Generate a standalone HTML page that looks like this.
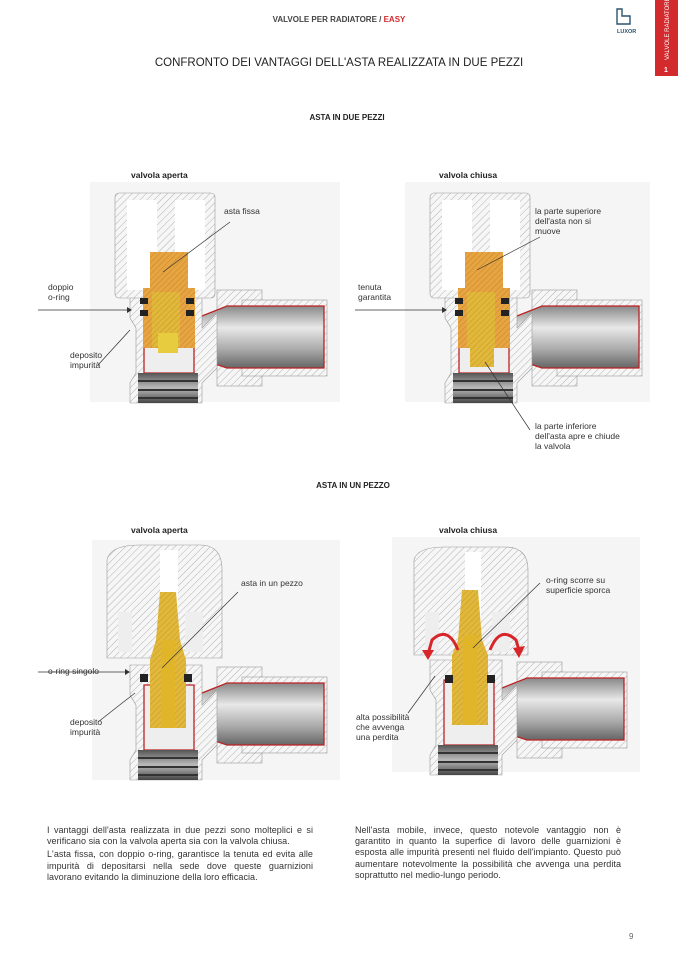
<!DOCTYPE html>
<html><head><meta charset="utf-8"><style>
html,body{margin:0;padding:0;background:#fff}
body{width:678px;height:959px;position:relative;overflow:hidden;font-family:"Liberation Sans",sans-serif;color:#222}
.a{position:absolute;white-space:nowrap}
.lab{font-size:8.5px;line-height:10px;color:#333}
.p{position:absolute;font-size:9px;line-height:11.2px;text-align:justify;color:#333;letter-spacing:0.05px}
.p div{margin-bottom:2px}
</style></head><body>
<svg width="678" height="959" style="position:absolute;left:0;top:0">
<defs>
<pattern id="h" width="5" height="5" patternUnits="userSpaceOnUse" patternTransform="rotate(45)"><rect width="5" height="5" fill="#f6f6f6"/><line x1="0" y1="0" x2="0" y2="5" stroke="#aaa" stroke-width="0.9"/></pattern>
<pattern id="hy" width="4" height="4" patternUnits="userSpaceOnUse" patternTransform="rotate(45)"><rect width="4" height="4" fill="#e2b83a"/><line x1="0" y1="0" x2="0" y2="4" stroke="#b8902a" stroke-width="0.8"/></pattern>
<pattern id="ho" width="4" height="4" patternUnits="userSpaceOnUse" patternTransform="rotate(45)"><rect width="4" height="4" fill="#e6a542"/><line x1="0" y1="0" x2="0" y2="4" stroke="#c07a20" stroke-width="0.8"/></pattern>
<linearGradient id="m" x1="0" y1="0" x2="0" y2="1"><stop offset="0" stop-color="#888"/><stop offset="0.35" stop-color="#e8e8e8"/><stop offset="0.7" stop-color="#aaa"/><stop offset="1" stop-color="#666"/></linearGradient>
<linearGradient id="th" x1="0" y1="0" x2="0" y2="1"><stop offset="0" stop-color="#555"/><stop offset="0.5" stop-color="#bbb"/><stop offset="1" stop-color="#444"/></linearGradient>
<g id="valve">
  <rect x="125" y="112" width="45" height="96" fill="url(#h)" stroke="#999" stroke-width="0.6"/>
  <rect x="150" y="122" width="85" height="76" fill="url(#h)" stroke="#999" stroke-width="0.6"/>
  <path d="M105 140 L135 128 L232 128 L232 190 L135 190 L105 180 Z" fill="url(#m)" stroke="#b22" stroke-width="1.3"/>
  <path d="M38 110 L110 110 L110 150 L125 135 L125 190 L110 205 L110 225 L38 225 L38 205 L44 195 L44 150 L38 140 Z" fill="url(#h)" stroke="#999" stroke-width="0.6"/>
  <path d="M52 130 L102 130 L102 195 L52 195 Z" fill="#eee" stroke="#b22" stroke-width="1.3"/>
  <rect x="46" y="195" width="60" height="30" fill="url(#th)"/>
  <line x1="46" y1="203" x2="106" y2="203" stroke="#333" stroke-width="2"/>
  <line x1="46" y1="212" x2="106" y2="212" stroke="#333" stroke-width="2"/>
  <line x1="46" y1="220" x2="106" y2="220" stroke="#333" stroke-width="2"/>
</g>
</defs>

<rect x="655" y="0" width="23" height="76" fill="#d32a2e"/>
<text x="669" y="60" transform="rotate(-90 669 60)" font-size="6" fill="#fff" font-family="Liberation Sans">VALVOLE RADIATORE</text>
<text x="664" y="72" font-size="7" fill="#fff" font-weight="bold" font-family="Liberation Sans">1</text>
<path d="M617 9 L617 24 L630 24 L630 16 L622 16 L622 9 Z" fill="none" stroke="#2a5470" stroke-width="1.4"/>
<text x="617" y="33" font-size="5.5" fill="#2a5470" font-weight="bold" font-family="Liberation Sans">LUXOR</text>

<rect x="90" y="182" width="250" height="220" fill="#f5f5f5"/>
<rect x="405" y="182" width="245" height="220" fill="#f5f5f5"/>
<rect x="92" y="540" width="248" height="240" fill="#f5f5f5"/>
<rect x="392" y="537" width="248" height="235" fill="#f5f5f5"/>

<g transform="translate(92,178)"><use href="#valve"/></g>
<rect x="115" y="193" width="100" height="105" rx="4" fill="url(#h)" stroke="#999" stroke-width="0.6"/>
<rect x="127" y="200" width="30" height="90" fill="#fff"/><rect x="175" y="200" width="30" height="90" fill="#fff"/>
<rect x="150" y="252" width="38" height="40" fill="url(#ho)"/>
<rect x="143" y="288" width="52" height="60" fill="url(#ho)"/>
<rect x="152" y="292" width="28" height="55" fill="url(#hy)"/>
<rect x="140" y="298" width="8" height="6" fill="#222"/><rect x="140" y="310" width="8" height="6" fill="#222"/>
<rect x="186" y="298" width="8" height="6" fill="#222"/><rect x="186" y="310" width="8" height="6" fill="#222"/>
<rect x="158" y="333" width="20" height="20" fill="#e8cc40"/>

<g transform="translate(407,178)"><use href="#valve"/></g>
<rect x="430" y="193" width="100" height="105" rx="4" fill="url(#h)" stroke="#999" stroke-width="0.6"/>
<rect x="442" y="200" width="30" height="90" fill="#fff"/><rect x="490" y="200" width="30" height="90" fill="#fff"/>
<rect x="465" y="252" width="38" height="40" fill="url(#ho)"/>
<rect x="458" y="288" width="52" height="60" fill="url(#ho)"/>
<rect x="467" y="292" width="28" height="55" fill="url(#hy)"/>
<rect x="455" y="298" width="8" height="6" fill="#222"/><rect x="455" y="310" width="8" height="6" fill="#222"/>
<rect x="501" y="298" width="8" height="6" fill="#222"/><rect x="501" y="310" width="8" height="6" fill="#222"/>
<rect x="470" y="345" width="24" height="22" fill="url(#hy)"/>

<g transform="translate(92,555)"><use href="#valve"/></g>
<path d="M107 560 Q110 545 140 545 L200 545 Q222 545 222 570 L222 658 L107 658 Z" fill="url(#h)" stroke="#999" stroke-width="0.6"/>
<rect x="160" y="550" width="18" height="80" fill="#fff"/>
<rect x="118" y="612" width="14" height="40" fill="#eee"/><rect x="185" y="612" width="18" height="40" fill="#eee"/>
<path d="M160 592 L176 592 L180 640 L186 660 L186 728 L150 728 L150 660 L156 640 Z" fill="url(#hy)"/>
<rect x="161" y="640" width="14" height="88" fill="#e0b52a"/>
<rect x="140" y="674" width="8" height="8" fill="#222"/><rect x="184" y="674" width="8" height="8" fill="#222"/>

<g transform="translate(392,550)"><use href="#valve"/></g>
<path d="M414 560 Q417 547 445 547 L505 547 Q528 547 528 570 L528 655 L414 655 Z" fill="url(#h)" stroke="#999" stroke-width="0.6"/>
<rect x="465" y="552" width="16" height="70" fill="#fff"/>
<rect x="425" y="612" width="14" height="40" fill="#eee"/><rect x="492" y="612" width="18" height="40" fill="#eee"/>
<path d="M462 590 L478 590 L482 640 L488 655 L488 725 L452 725 L452 655 L458 640 Z" fill="url(#hy)"/>
<rect x="463" y="635" width="14" height="90" fill="#e0b52a"/>
<rect x="445" y="675" width="8" height="8" fill="#222"/><rect x="487" y="675" width="8" height="8" fill="#222"/>
<path d="M458 650 Q448 625 432 640 L428 654" fill="none" stroke="#d8252a" stroke-width="3"/>
<path d="M422 650 L428 660 L434 650 Z" fill="#d8252a"/>
<path d="M490 650 Q500 625 516 640 L519 650" fill="none" stroke="#d8252a" stroke-width="3"/>
<path d="M513 648 L519 658 L525 646 Z" fill="#d8252a"/>

<g stroke="#333" stroke-width="0.7" fill="none">
<line x1="38" y1="310" x2="127" y2="310"/><line x1="230" y1="222" x2="163" y2="272"/><line x1="98" y1="365" x2="130" y2="330"/>
<line x1="355" y1="310" x2="442" y2="310"/><line x1="540" y1="237" x2="477" y2="270"/><line x1="530" y1="430" x2="485" y2="362"/>
<line x1="38" y1="672" x2="125" y2="672"/><line x1="238" y1="592" x2="162" y2="668"/><line x1="98" y1="722" x2="135" y2="693"/>
<line x1="540" y1="583" x2="473" y2="648"/><line x1="408" y1="713" x2="435" y2="676"/>
</g>
<g fill="#333">
<path d="M127 307 L132 310 L127 313Z"/><path d="M442 307 L447 310 L442 313Z"/><path d="M125 669 L130 672 L125 675Z"/>
</g>
</svg>

<div class="a" style="left:0;width:678px;top:15px;text-align:center;font-size:8px;font-weight:bold;color:#444">VALVOLE PER RADIATORE / <span style="color:#d32a2e">EASY</span></div>
<div class="a" style="left:0;width:678px;top:57px;text-align:center;font-size:11.5px;color:#222">CONFRONTO DEI VANTAGGI DELL'ASTA REALIZZATA IN DUE PEZZI</div>
<div class="a" style="left:0;width:694px;top:113px;text-align:center;font-size:8px;font-weight:bold">ASTA IN DUE PEZZI</div>
<div class="a" style="left:0;width:706px;top:481px;text-align:center;font-size:8px;font-weight:bold">ASTA IN UN PEZZO</div>

<div class="a lab" style="left:131px;top:170px;font-weight:bold;color:#222">valvola aperta</div>
<div class="a lab" style="left:439px;top:170px;font-weight:bold;color:#222">valvola chiusa</div>
<div class="a lab" style="left:131px;top:525px;font-weight:bold;color:#222">valvola aperta</div>
<div class="a lab" style="left:439px;top:525px;font-weight:bold;color:#222">valvola chiusa</div>

<div class="a lab" style="left:224px;top:206px">asta fissa</div>
<div class="a lab" style="left:48px;top:282px">doppio<br>o-ring</div>
<div class="a lab" style="left:70px;top:350px">deposito<br>impurità</div>
<div class="a lab" style="left:535px;top:206px">la parte superiore<br>dell'asta non si<br>muove</div>
<div class="a lab" style="left:358px;top:282px">tenuta<br>garantita</div>
<div class="a lab" style="left:535px;top:421px">la parte inferiore<br>dell'asta apre e chiude<br>la valvola</div>

<div class="a lab" style="left:241px;top:578px">asta in un pezzo</div>
<div class="a lab" style="left:48px;top:666px">o-ring singolo</div>
<div class="a lab" style="left:70px;top:717px">deposito<br>impurità</div>
<div class="a lab" style="left:546px;top:575px">o-ring scorre su<br>superficie sporca</div>
<div class="a lab" style="left:356px;top:712px">alta possibilità<br>che avvenga<br>una perdita</div>

<div class="p" style="left:47px;top:825px;width:266px">
<div>I vantaggi dell'asta realizzata in due pezzi sono molteplici e si verificano sia con la valvola aperta sia con la valvola chiusa.</div>
<div>L'asta fissa, con doppio o-ring, garantisce la tenuta ed evita alle impurità di depositarsi nella sede dove queste guarnizioni lavorano evitando la diminuzione della loro efficacia.</div>
</div>
<div class="p" style="left:355px;top:825px;width:266px">
<div>Nell'asta mobile, invece, questo notevole vantaggio non è garantito in quanto la superfice di lavoro delle guarnizioni è esposta alle impurità presenti nel fluido dell'impianto. Questo può aumentare notevolmente la possibilità che avvenga una perdita soprattutto nel medio-lungo periodo.</div>
</div>
<div class="a" style="left:629px;top:932px;font-size:8px;color:#666">9</div>
</body></html>
